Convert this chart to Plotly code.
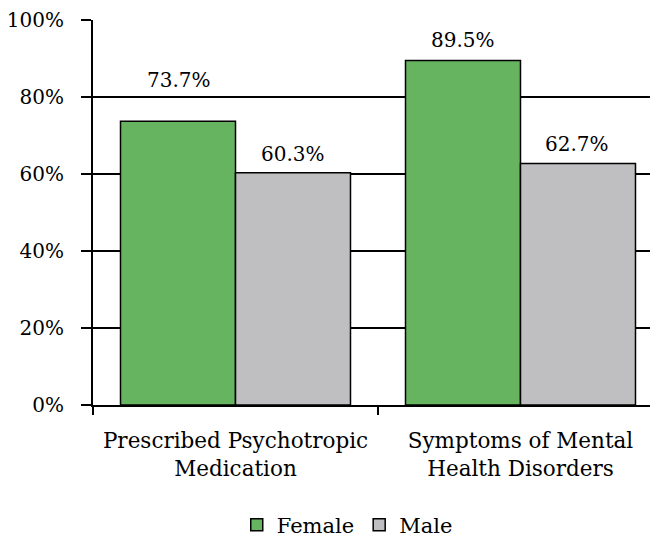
import plotly.graph_objects as go

categories = ["Prescribed Psychotropic<br>Medication", "Symptoms of Mental<br>Health Disorders"]
female = [73.7, 89.5]
male = [60.3, 62.7]
female_labels = ["73.7%", "89.5%"]
male_labels = ["60.3%", "62.7%"]

FONT = "DejaVu Serif"
fig = go.Figure()
fig.add_bar(name="Female", x=categories, y=female, marker=dict(color="#66b360", line=dict(color="black", width=1.5)))
fig.add_bar(name="Male", x=categories, y=male, marker=dict(color="#bfbfc1", line=dict(color="black", width=1.5)))

# value labels
female_shift = [27, 6]
male_shift = [5, 6]
for i, c in enumerate(categories):
    fig.add_annotation(x=c, y=female[i], text=female_labels[i], showarrow=False, xshift=-57, yshift=female_shift[i],
                       yanchor="bottom", font=dict(family=FONT, size=20, color="black"))
    fig.add_annotation(x=c, y=male[i], text=male_labels[i], showarrow=False, xshift=57, yshift=male_shift[i],
                       yanchor="bottom", font=dict(family=FONT, size=20, color="black"))

fig.update_layout(
    width=650, height=532,
    margin=dict(l=85, r=0, t=12, b=135, autoexpand=False),
    paper_bgcolor="white", plot_bgcolor="white",
    barmode="group", bargap=0.193, bargroupgap=0,
    font=dict(family=FONT, size=20, color="black"),
    showlegend=True,
    legend=dict(orientation="h", x=0.45, xanchor="center", xref="paper", y=-0.312, yanchor="middle",
                font=dict(family=FONT, size=21), itemwidth=30),
    xaxis=dict(range=[-0.5, 1.4825], showline=True, linecolor="black", linewidth=2, automargin=False,
               ticks="outside", tickson="boundaries", ticklen=8, tickwidth=1.5, tickcolor="black",
               ticklabelstandoff=15,
               showgrid=False, tickfont=dict(family=FONT, size=21.5)),
    yaxis=dict(range=[0, 100], tickvals=[0, 20, 40, 60, 80, 100], ticktext=["0%", "20%", "40%", "60%", "80%", "100%"],
               showline=True, linecolor="black", linewidth=2, ticks="outside", ticklen=10, tickwidth=1.5,
               tickcolor="black", showgrid=True, gridcolor="black", gridwidth=1.5, zeroline=False, automargin=False,
               ticklabelstandoff=13,
               tickfont=dict(family=FONT, size=20)),
)
fig.write_html("out.html")
